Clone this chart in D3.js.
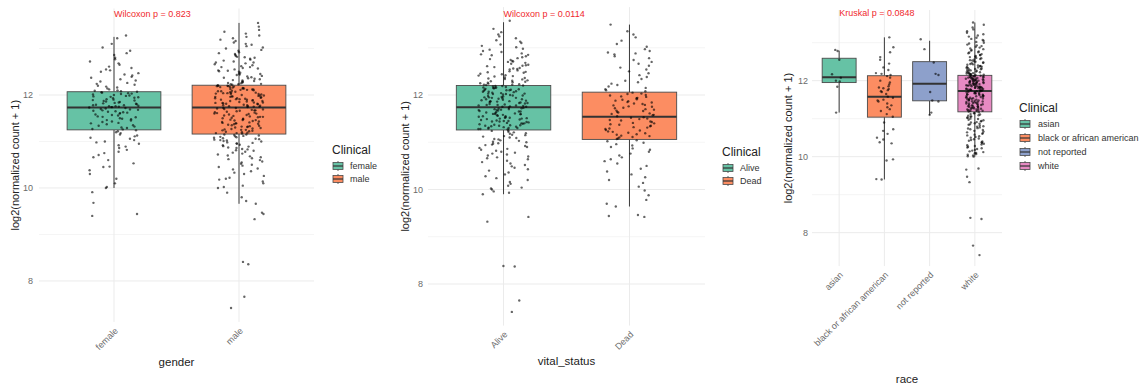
<!DOCTYPE html>
<html>
<head>
<meta charset="utf-8">
<script src="https://cdn.jsdelivr.net/npm/d3@7/dist/d3.min.js"></script>
<style>
  html, body { margin: 0; padding: 0; background: #ffffff; }
  svg { display: block; font-family: "Liberation Sans", Arial, Helvetica, sans-serif; }
</style>
</head>
<body>
<svg id="chart" width="1142" height="390"></svg>
<script>
// ---------------- data ----------------
const yMajorTicks = [8, 10, 12];
const yMinorTicks = [9, 11, 13];
const yDomain = [7.12, 13.86];
const legendTitle = "Clinical";
const testLabels = ["Wilcoxon p = 0.823", "Wilcoxon p = 0.0114", "Kruskal p = 0.0848"];
const axisTitles = ["gender", "vital_status", "race"];
const yAxisTitle = "log2(normalized count + 1)";
const palette = ["#66C2A5", "#FC8D62", "#8DA0CB", "#E78AC3"];

// gender
const genderCategories = ["female", "male"];
const genderLow    = [10.0, 9.66];
const genderQ1     = [11.25, 11.16];
const genderMedian = [11.73, 11.73];
const genderQ3     = [12.07, 12.21];
const genderHigh   = [13.25, 13.55];
const femaleValues = [
  13.28,13.22,13.1,13.02,12.95,12.9,12.86,12.8,12.77,12.72,12.68,12.65,12.61,12.58,12.55,12.53,12.5,12.47,12.44,12.42,
  12.39,12.37,12.34,12.31,12.29,12.26,12.24,12.22,12.2,12.18,12.16,12.14,12.12,12.1,12.09,12.08,12.07,
  12.06,12.05,12.04,12.03,12.02,12.01,12.0,11.99,11.98,11.97,11.96,11.95,11.94,11.93,11.91,11.9,11.89,11.88,11.87,11.86,
  11.85,11.84,11.83,11.82,11.81,11.8,11.79,11.78,11.78,11.77,11.76,11.76,11.75,11.74,11.74,11.73,
  11.72,11.71,11.7,11.69,11.68,11.67,11.66,11.65,11.64,11.63,11.62,11.61,11.6,11.58,11.57,11.56,11.54,11.53,11.52,11.5,
  11.49,11.48,11.46,11.45,11.43,11.42,11.4,11.39,11.37,11.35,11.34,11.32,11.3,11.29,11.27,11.26,
  11.24,11.22,11.2,11.18,11.15,11.13,11.11,11.08,11.06,11.03,11.0,10.98,10.95,10.92,10.89,10.86,10.82,10.78,10.75,10.71,
  10.66,10.6,10.53,10.46,10.45,10.38,10.3,10.2,10.1,10.02,10.0,
  9.91,9.68,9.44,9.4
];
const maleValues = [
  12.21,12.22,12.23,12.24,12.25,12.27,12.28,12.29,12.31,12.32,12.34,12.35,12.37,12.38,12.4,12.41,12.43,12.45,12.46,12.48,
  12.5,12.51,12.53,12.55,12.57,12.58,12.6,12.62,12.64,12.66,12.68,12.7,12.72,12.74,12.76,12.78,12.8,12.82,12.84,12.86,
  12.88,12.9,12.92,12.95,12.97,13.0,13.02,13.05,13.08,13.1,13.13,13.16,13.19,13.22,13.25,13.28,13.32,13.36,13.4,13.47,
  13.55,12.23,12.26,12.3,12.36,12.44,12.52,12.6,12.7,12.81,
  11.74,11.75,11.75,11.76,11.77,11.78,11.78,11.79,11.8,11.81,11.81,11.82,11.83,11.84,11.84,11.85,11.86,11.87,11.87,11.88,
  11.89,11.9,11.9,11.91,11.92,11.93,11.93,11.94,11.95,11.96,11.96,11.97,11.98,11.99,11.99,12.0,12.01,12.02,12.02,12.03,
  12.04,12.05,12.05,12.06,12.07,12.08,12.08,12.09,12.1,12.11,12.11,12.12,12.13,12.14,12.14,12.15,12.16,12.17,12.17,12.18,
  12.19,12.2,12.2,11.76,11.83,11.91,11.97,12.04,12.12,12.19,
  11.17,11.18,11.18,11.19,11.2,11.21,11.22,11.23,11.24,11.25,11.25,11.26,11.27,11.28,11.29,11.3,11.31,11.32,11.32,11.33,
  11.34,11.35,11.36,11.37,11.38,11.39,11.39,11.4,11.41,11.42,11.43,11.44,11.45,11.46,11.46,11.47,11.48,11.49,11.5,11.51,
  11.52,11.53,11.53,11.54,11.55,11.56,11.57,11.58,11.59,11.6,11.6,11.61,11.62,11.63,11.64,11.65,11.66,11.67,11.67,11.68,
  11.69,11.7,11.71,11.72,11.72,
  9.66,9.72,9.8,9.9,10.0,10.02,10.05,10.1,10.14,10.18,10.2,10.22,10.26,10.3,10.33,10.36,10.4,10.42,10.45,10.48,
  10.5,10.52,10.55,10.57,10.6,10.62,10.64,10.66,10.68,10.7,10.72,10.74,10.76,10.78,10.8,10.81,10.83,10.84,10.86,10.87,
  10.89,10.9,10.92,10.93,10.95,10.96,10.97,10.98,11.0,11.01,11.02,11.03,11.04,11.05,11.06,11.07,11.08,11.09,11.1,11.11,
  11.12,11.13,11.14,11.15,11.15,
  9.47,9.44,9.33,8.41,8.36,7.66,7.42
];

// vital status
const vitalCategories = ["Alive", "Dead"];
const vitalLow    = [9.9, 9.64];
const vitalQ1     = [11.26, 11.06];
const vitalMedian = [11.74, 11.54];
const vitalQ3     = [12.2, 12.06];
const vitalHigh   = [13.54, 13.49];
const aliveValues = [
  12.21,12.22,12.23,12.24,12.26,12.27,12.28,12.3,12.31,12.33,12.34,12.36,12.37,12.39,12.4,12.42,12.44,12.45,12.47,12.49,
  12.5,12.52,12.54,12.55,12.57,12.59,12.61,12.63,12.64,12.66,12.68,12.7,12.72,12.74,12.76,12.78,12.8,12.82,12.84,12.86,
  12.88,12.91,12.93,12.96,12.98,13.01,13.04,13.07,13.1,13.13,13.16,13.2,13.24,13.28,13.33,13.4,13.57,
  12.22,12.25,12.29,12.35,12.41,12.48,12.56,12.62,12.71,12.85,
  11.75,11.75,11.76,11.77,11.78,11.79,11.79,11.8,11.81,11.82,11.83,11.83,11.84,11.85,11.86,11.87,11.87,11.88,11.89,11.9,
  11.91,11.91,11.92,11.93,11.94,11.95,11.95,11.96,11.97,11.98,11.99,11.99,12.0,12.01,12.02,12.03,12.03,12.04,12.05,12.06,
  12.07,12.07,12.08,12.09,12.1,12.11,12.11,12.12,12.13,12.14,12.15,12.15,12.16,12.17,12.18,12.19,12.19,12.2,
  11.78,11.86,11.94,12.02,12.1,12.16,
  11.27,11.28,11.29,11.3,11.3,11.31,11.32,11.33,11.34,11.35,11.35,11.36,11.37,11.38,11.39,11.4,11.4,11.41,11.42,11.43,
  11.44,11.45,11.45,11.46,11.47,11.48,11.49,11.5,11.5,11.51,11.52,11.53,11.54,11.55,11.55,11.56,11.57,11.58,11.59,11.6,
  11.6,11.61,11.62,11.63,11.64,11.65,11.65,11.66,11.67,11.68,11.69,11.7,11.7,11.71,11.72,11.73,11.73,
  11.28,11.36,11.44,11.52,11.6,11.68,
  9.9,9.93,9.96,10.0,10.02,10.04,10.08,10.12,10.16,10.2,10.24,10.28,10.32,10.36,10.4,10.43,10.46,10.49,10.52,10.55,
  10.58,10.61,10.64,10.66,10.68,10.7,10.72,10.74,10.76,10.78,10.8,10.82,10.84,10.86,10.88,10.9,10.92,10.94,10.95,10.97,
  10.98,11.0,11.01,11.03,11.04,11.06,11.07,11.09,11.1,11.12,11.13,11.15,11.16,11.18,11.19,11.21,11.22,11.24,11.25,
  9.42,9.32,8.38,8.37,7.65,7.41
];
const deadValues = [
  12.08,12.1,12.12,12.15,12.18,12.21,12.24,12.27,12.3,12.34,12.38,12.42,12.46,12.5,12.54,12.58,12.62,12.66,12.7,12.74,
  12.78,12.82,12.86,12.88,12.9,12.93,12.97,13.02,13.08,13.15,13.22,13.28,13.35,13.49,
  11.55,11.57,11.58,11.6,11.61,11.63,11.64,11.66,11.67,11.69,11.7,11.72,11.73,11.75,11.76,11.78,11.79,11.81,11.82,11.84,
  11.85,11.87,11.88,11.9,11.91,11.93,11.94,11.96,11.97,11.99,12.0,12.02,12.03,12.05,
  11.07,11.08,11.1,11.11,11.13,11.14,11.16,11.17,11.19,11.2,11.22,11.23,11.25,11.26,11.28,11.29,11.31,11.32,11.34,11.35,
  11.37,11.38,11.4,11.41,11.43,11.44,11.46,11.47,11.49,11.5,11.52,11.53,
  9.64,9.7,9.78,9.88,9.98,10.06,10.14,10.2,10.26,10.32,10.38,10.44,10.5,10.55,10.6,10.64,10.68,10.72,10.76,10.8,
  10.84,10.87,10.9,10.93,10.96,10.99,11.02,11.04,
  9.46,9.42,9.44
];

// race
const raceCategories = ["asian", "black or african american", "not reported", "white"];
const raceLow    = [11.16, 9.4, 11.1, 10.0];
const raceQ1     = [11.95, 11.04, 11.47, 11.18];
const raceMedian = [12.09, 11.58, 11.92, 11.73];
const raceQ3     = [12.59, 12.13, 12.5, 12.14];
const raceHigh   = [12.79, 13.14, 13.05, 13.53];
const asianValues = [12.81, 12.78, 12.55, 12.17, 12.08, 12.0, 11.98, 11.84, 11.16];
const blackValues = [
  13.14,12.88,12.75,12.62,12.55,12.45,12.35,12.28,12.2,12.18,12.15,12.12,
  12.08,12.0,11.95,11.9,11.85,11.82,11.8,11.78,11.75,11.72,11.7,11.65,
  11.58,11.55,11.5,11.48,11.45,11.4,11.35,11.3,11.25,11.2,11.12,11.05,
  10.9,10.72,10.68,10.6,10.5,10.45,10.38,10.35,9.93,9.9,9.41,9.4
];
const notReportedValues = [13.09, 12.83, 12.48, 12.18, 12.15, 11.7, 11.48, 11.45, 11.16, 11.1];
const whiteValues = [
  12.15,12.15,12.16,12.17,12.17,12.18,12.19,12.2,12.2,12.21,12.22,12.23,12.24,12.25,12.26,12.27,12.28,12.29,12.3,12.31,
  12.32,12.33,12.34,12.35,12.36,12.37,12.38,12.39,12.4,12.42,12.43,12.44,12.46,12.47,12.48,12.5,12.51,12.53,12.54,12.56,
  12.57,12.59,12.6,12.62,12.63,12.65,12.67,12.68,12.7,12.72,12.74,12.75,12.77,12.79,12.81,12.83,12.85,12.87,12.89,12.91,
  12.93,12.95,12.98,13.0,13.02,13.05,13.07,13.1,13.13,13.16,13.19,13.22,13.26,13.3,13.35,13.4,13.47,13.53,
  11.74,11.74,11.75,11.75,11.76,11.76,11.77,11.78,11.78,11.79,11.79,11.8,11.81,11.81,11.82,11.82,11.83,11.84,11.84,11.85,
  11.85,11.86,11.87,11.87,11.88,11.88,11.89,11.9,11.9,11.91,11.91,11.92,11.93,11.93,11.94,11.94,11.95,11.96,11.96,11.97,
  11.97,11.98,11.99,11.99,12.0,12.0,12.01,12.02,12.02,12.03,12.03,12.04,12.05,12.05,12.06,12.06,12.07,12.08,12.08,12.09,
  12.09,12.1,12.11,12.11,12.12,12.12,12.13,12.13,
  11.19,11.2,11.2,11.21,11.22,11.23,11.24,11.24,11.25,11.26,11.27,11.28,11.28,11.29,11.3,11.31,11.32,11.32,11.33,11.34,
  11.35,11.36,11.36,11.37,11.38,11.39,11.4,11.4,11.41,11.42,11.43,11.44,11.44,11.45,11.46,11.47,11.48,11.48,11.49,11.5,
  11.51,11.52,11.52,11.53,11.54,11.55,11.56,11.56,11.57,11.58,11.59,11.6,11.6,11.61,11.62,11.63,11.64,11.64,11.65,11.66,
  11.67,11.68,11.68,11.69,11.7,11.71,11.72,11.72,
  10.0,10.01,10.03,10.05,10.07,10.09,10.1,10.12,10.14,10.16,10.18,10.2,10.22,10.24,10.26,10.28,10.3,10.32,10.34,10.36,
  10.38,10.4,10.42,10.44,10.46,10.48,10.5,10.52,10.54,10.56,10.58,10.6,10.62,10.64,10.66,10.68,10.7,10.72,10.74,10.75,
  10.77,10.79,10.8,10.82,10.84,10.85,10.87,10.88,10.9,10.91,10.93,10.94,10.96,10.97,10.99,11.0,11.02,11.03,11.05,11.06,
  11.08,11.09,11.11,11.12,11.14,11.15,11.17,
  9.69,9.66,9.47,9.33,8.39,8.36,7.66,7.41
];

// ---------------- drawing ----------------
const svg = d3.select("#chart");

// Deterministic jitter in [0, 1) for point i of group g
function jitter(i, g) {
  const v = Math.sin((i + 1) * 12.9898 + (g + 1) * 78.233) * 43758.5453;
  return v - Math.floor(v);
}

const panels = [
  {
    cats: genderCategories, groups: [femaleValues, maleValues],
    low: genderLow, q1: genderQ1, med: genderMedian, q3: genderQ3, high: genderHigh,
    x: [39, 314], y: [321.9, 8.5], tickX: 33, yTitleX: 15,
    legend: { x: 332, y: 150 }, xTitleY: 366, label: testLabels[0], xTitle: axisTitles[0]
  },
  {
    cats: vitalCategories, groups: [aliveValues, deadValues],
    low: vitalLow, q1: vitalQ1, med: vitalMedian, q3: vitalQ3, high: vitalHigh,
    x: [428, 705], y: [325.6, 7.1], tickX: 423, yTitleX: 405,
    legend: { x: 722, y: 152 }, xTitleY: 365, label: testLabels[1], xTitle: axisTitles[1]
  },
  {
    cats: raceCategories, groups: [asianValues, blackValues, notReportedValues, whiteValues],
    low: raceLow, q1: raceQ1, med: raceMedian, q3: raceQ3, high: raceHigh,
    x: [812, 1002], y: [266.1, 10], tickX: 808, yTitleX: 788,
    legend: { x: 1019, y: 108 }, xTitleY: 383, label: testLabels[2], xTitle: axisTitles[2]
  }
];

panels.forEach((p, pi) => {
  const g = svg.append("g");
  const x = d3.scalePoint().domain(p.cats).range(p.x).padding(0.6);
  const y = d3.scaleLinear().domain(yDomain).range(p.y);
  const step = x.step();
  const boxW = step * 0.75;
  const color = d3.scaleOrdinal().domain(p.cats).range(palette);

  // grid
  g.selectAll(".minor").data(yMinorTicks).join("line")
    .attr("x1", p.x[0]).attr("x2", p.x[1])
    .attr("y1", d => y(d)).attr("y2", d => y(d))
    .attr("stroke", "#F3F3F3").attr("stroke-width", 0.8);
  g.selectAll(".major").data(yMajorTicks).join("line")
    .attr("x1", p.x[0]).attr("x2", p.x[1])
    .attr("y1", d => y(d)).attr("y2", d => y(d))
    .attr("stroke", "#EBEBEB").attr("stroke-width", 1);
  g.selectAll(".vgrid").data(p.cats).join("line")
    .attr("x1", d => x(d)).attr("x2", d => x(d))
    .attr("y1", p.y[0]).attr("y2", p.y[1])
    .attr("stroke", "#EBEBEB").attr("stroke-width", 1);

  // y tick labels
  g.selectAll(".ytick").data(yMajorTicks).join("text")
    .attr("x", p.tickX).attr("y", d => y(d)).attr("dy", "0.35em")
    .attr("text-anchor", "end").attr("font-size", 9).attr("fill", "#6b6b6b")
    .text(d => d);

  // x tick labels (rotated 45 degrees)
  g.selectAll(".xtick").data(p.cats).join("text")
    .attr("transform", d => `translate(${x(d)},${p.y[0] + 5}) rotate(-45)`)
    .attr("text-anchor", "end").attr("dy", "0.7em")
    .attr("font-size", 9).attr("fill", "#6b6b6b")
    .text(d => d);

  // axis titles
  g.append("text")
    .attr("x", (p.x[0] + p.x[1]) / 2).attr("y", p.xTitleY)
    .attr("text-anchor", "middle").attr("font-size", 11.5).attr("fill", "#222")
    .text(p.xTitle);
  g.append("text")
    .attr("transform", `translate(${p.yTitleX},${(p.y[0] + p.y[1]) / 2}) rotate(-90)`)
    .attr("text-anchor", "middle").attr("dy", "0.35em")
    .attr("font-size", 11).attr("fill", "#222")
    .text(yAxisTitle);

  // boxes
  const boxes = p.cats.map((c, i) => ({
    c, low: p.low[i], q1: p.q1[i], med: p.med[i], q3: p.q3[i], high: p.high[i]
  }));
  const bg = g.selectAll(".box").data(boxes).join("g");
  bg.append("line")
    .attr("x1", d => x(d.c)).attr("x2", d => x(d.c))
    .attr("y1", d => y(d.high)).attr("y2", d => y(d.q3))
    .attr("stroke", "#3a3a3a").attr("stroke-width", 1);
  bg.append("line")
    .attr("x1", d => x(d.c)).attr("x2", d => x(d.c))
    .attr("y1", d => y(d.q1)).attr("y2", d => y(d.low))
    .attr("stroke", "#3a3a3a").attr("stroke-width", 1);
  bg.append("rect")
    .attr("x", d => x(d.c) - boxW / 2).attr("width", boxW)
    .attr("y", d => y(d.q3)).attr("height", d => y(d.q1) - y(d.q3))
    .attr("fill", d => color(d.c)).attr("stroke", "#4a4a4a").attr("stroke-width", 0.9);
  bg.append("line")
    .attr("x1", d => x(d.c) - boxW / 2).attr("x2", d => x(d.c) + boxW / 2)
    .attr("y1", d => y(d.med)).attr("y2", d => y(d.med))
    .attr("stroke", "#333").attr("stroke-width", 2);

  // jittered points
  const pts = [];
  p.groups.forEach((vals, gi) => {
    vals.forEach((v, i) => {
      pts.push({ c: p.cats[gi], v, j: jitter(i, gi + pi * 4) });
    });
  });
  g.selectAll(".pt").data(pts).join("circle")
    .attr("cx", d => x(d.c) + (d.j * 2 - 1) * 0.2 * step)
    .attr("cy", d => y(d.v))
    .attr("r", 1.2)
    .attr("fill", "#000").attr("fill-opacity", 0.6);

  // test label, left aligned on the first category
  g.append("text")
    .attr("x", x(p.cats[0])).attr("y", pi === 2 ? 16 : 17)
    .attr("text-anchor", "start").attr("font-size", 9).attr("fill", "#F0282D")
    .text(p.label);

  // legend
  const lg = g.append("g").attr("transform", `translate(${p.legend.x},${p.legend.y})`);
  lg.append("text").attr("x", 0).attr("y", 4).attr("font-size", 12).attr("fill", "#222")
    .text(legendTitle);
  const rowH = pi === 2 ? 14 : 13;
  const items = lg.selectAll(".item").data(p.cats).join("g")
    .attr("transform", (d, i) => `translate(0,${16 + i * rowH})`);
  items.append("line").attr("x1", 6).attr("x2", 6).attr("y1", -5).attr("y2", 5)
    .attr("stroke", "#3a3a3a").attr("stroke-width", 0.8);
  items.append("rect").attr("x", 1).attr("y", -3.5).attr("width", 10).attr("height", 7)
    .attr("fill", d => color(d)).attr("stroke", "#4a4a4a").attr("stroke-width", 0.8);
  items.append("line").attr("x1", 1).attr("x2", 11).attr("y1", 0).attr("y2", 0)
    .attr("stroke", "#333").attr("stroke-width", 1.2);
  items.append("text").attr("x", pi === 2 ? 19 : 18).attr("y", 0).attr("dy", "0.35em")
    .attr("font-size", 9).attr("fill", "#333")
    .text(d => d);
});
</script>
</body>
</html>
